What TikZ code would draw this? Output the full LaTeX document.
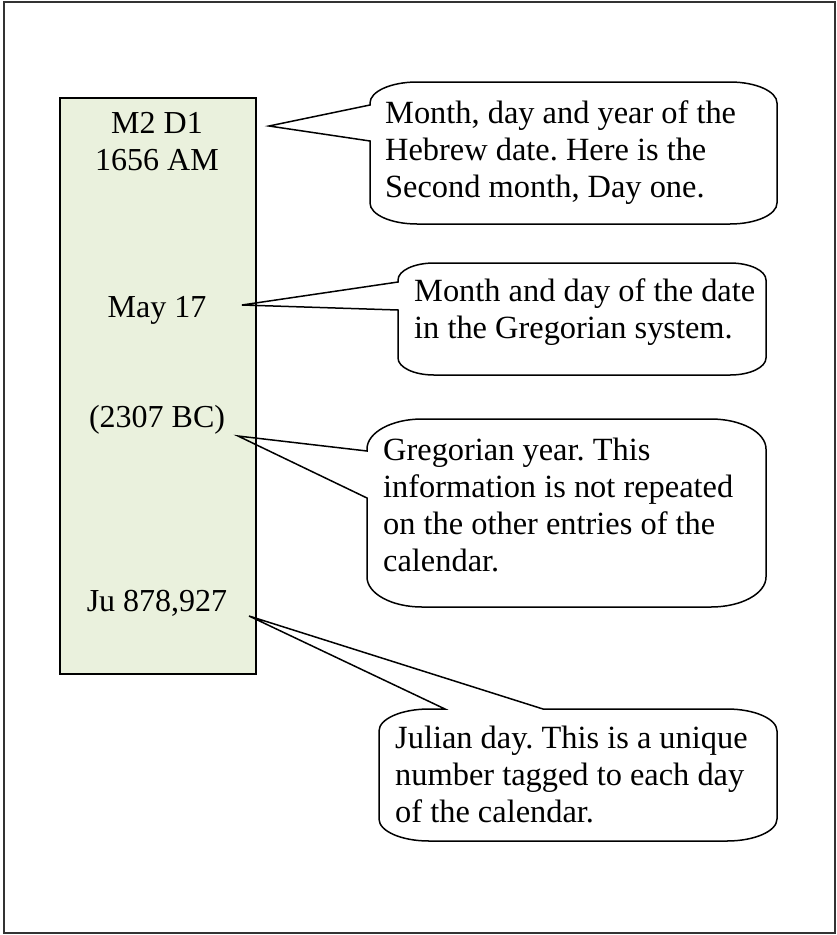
\documentclass[tikz,border=0pt]{standalone}
\usepackage{fontspec}
\setmainfont{Liberation Serif}
\frenchspacing
\definecolor{calgreen}{HTML}{EAF1DD}
% callout with pointer on the left edge:
% #1 x0, #2 y0 (top), #3 x1, #4 y1 (bottom), #5 ya, #6 yb, #7 tip, #8 rx, #9 ry
\newcommand\calloutLeft[9]{%
  \draw[calloutline] (#1,#5) -- (#7) -- (#1,#6) -- (#1,{#4-#9})
    .. controls (#1,{#4-#9+0.5523*#9}) and ({#1+#8-0.5523*#8},#4) .. ({#1+#8},#4)
    -- ({#3-#8},#4)
    .. controls ({#3-#8+0.5523*#8},#4) and (#3,{#4-#9+0.5523*#9}) .. (#3,{#4-#9})
    -- (#3,{#2+#9})
    .. controls (#3,{#2+#9-0.5523*#9}) and ({#3-#8+0.5523*#8},#2) .. ({#3-#8},#2)
    -- ({#1+#8},#2)
    .. controls ({#1+#8-0.5523*#8},#2) and (#1,{#2+#9-0.5523*#9}) .. (#1,{#2+#9})
    -- cycle;}
% callout with pointer on the top edge: #5 xa, #6 xb
\newcommand\calloutTop[9]{%
  \draw[calloutline] (#5,#2) -- (#7) -- (#6,#2) -- ({#3-#8},#2)
    .. controls ({#3-#8+0.5523*#8},#2) and (#3,{#2+#9-0.5523*#9}) .. (#3,{#2+#9})
    -- (#3,{#4-#9})
    .. controls (#3,{#4-#9+0.5523*#9}) and ({#3-#8+0.5523*#8},#4) .. ({#3-#8},#4)
    -- ({#1+#8},#4)
    .. controls ({#1+#8-0.5523*#8},#4) and (#1,{#4-#9+0.5523*#9}) .. (#1,{#4-#9})
    -- (#1,{#2+#9})
    .. controls (#1,{#2+#9-0.5523*#9}) and ({#1+#8-0.5523*#8},#2) .. ({#1+#8},#2)
    -- cycle;}
\begin{document}
\begin{tikzpicture}[x=1pt,y=-1pt,
  frameline/.style={draw=black!80,line width=1.5pt},
  datebox/.style={draw=black,line width=1.5pt,fill=calgreen,inner sep=0pt,
    minimum width=196pt,minimum height=576pt,anchor=north west},
  calloutline/.style={draw=black,line width=1.5pt,line join=miter},
  gtext/.style={font=\fontsize{32}{37}\selectfont,inner sep=0pt,anchor=base},
  ctext/.style={font=\fontsize{32.4}{37}\selectfont,inner sep=0pt,align=left,anchor=north west}]
\useasboundingbox (0,0) rectangle (836,935);
\fill[white] (0,0) rectangle (836,935);
\draw[frameline] (4,2) rectangle (835,933);
% date column
\node[datebox] (col) at (59,97) {};
\node[gtext] (g1) at (157,133) {M2 D1};
\node[gtext] (g2) at (157,170) {1656 AM};
\node[gtext] (g3) at (157,317) {May 17};
\node[gtext] (g4) at (157,427) {(2307 BC)};
\node[gtext] (g5) at (157,611) {Ju 878,927};
% pointer tips
\coordinate (tip1) at (269,126);
\coordinate (tip2) at (242,305);
\coordinate (tip3) at (238,436);
\coordinate (tip4) at (249,616);
% callouts
\calloutLeft{370}{82}{777}{224}{105}{141}{tip1}{47}{21}
\node[ctext] (t1) at (385,100) {Month, day and year of the\\Hebrew date. Here is the\\Second month, Day one.};
\calloutLeft{398}{263}{766}{375}{282}{310}{tip2}{36}{17}
\node[ctext] (t2) at (414,278) {Month and day of the date\\in the Gregorian system.};
\calloutLeft{367}{419}{766}{607}{451}{498}{tip3}{55}{30}
\node[ctext] (t3) at (383,438) {Gregorian year. This\\information is not repeated\\on the other entries of the\\calendar.};
\calloutTop{379}{709}{777}{841}{445}{543}{tip4}{50}{22}
\node[ctext] (t4) at (395,726) {Julian day. This is a unique\\number tagged to each day\\of the calendar.};
\end{tikzpicture}
\end{document}
